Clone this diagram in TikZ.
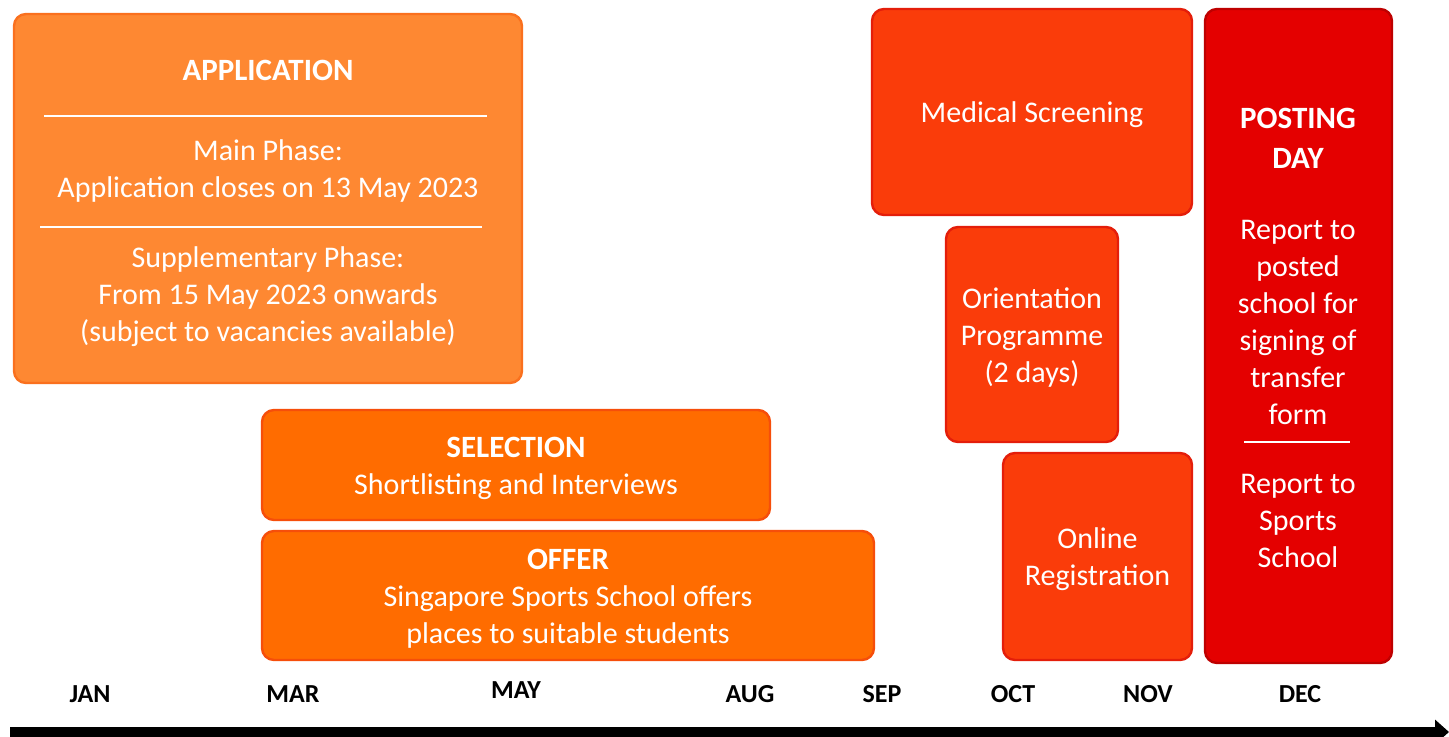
\documentclass[tikz,border=0pt]{standalone}
\usepackage{fontspec}
\setmainfont{Carlito}
\usetikzlibrary{arrows.meta}

\definecolor{appfill}{RGB}{254,136,50}
\definecolor{appline}{RGB}{250,112,30}
\definecolor{selfill}{RGB}{255,108,0}
\definecolor{selline}{RGB}{246,78,10}
\definecolor{medfill}{RGB}{250,60,10}
\definecolor{medline}{RGB}{228,30,10}
\definecolor{postfill}{RGB}{228,0,0}
\definecolor{postline}{RGB}{190,0,0}

\tikzset{
  stagebox/.style={draw, line width=1.2pt, rounded corners=6pt, inner sep=0pt},
  boxtext/.style={text=white, align=center, yshift=-1.5pt, font=\fontsize{15}{18.5}\selectfont},
  boxtitle/.style={text=white, align=center, font=\fontsize{15.5}{20}\selectfont\bfseries},
  divider/.style={white, line width=0.8pt},
  month/.style={font=\fontsize{13}{15}\selectfont\bfseries}
}

\begin{document}
\begin{tikzpicture}[x=0.5pt,y=-0.5pt]
  \useasboundingbox (0,0) rectangle (1449,737);

  % application
  \node[stagebox, draw=appline, fill=appfill, minimum width=254pt, minimum height=184.5pt] (application) at (268,198.5) {};
  \node[boxtitle] (apptitle) at (268,70) {APPLICATION};
  \draw[divider] (44,116) -- (487,116);
  \node[boxtext] (mainphase) at (268,168) {Main Phase:\\Application closes on 13 May 2023};
  \draw[divider] (40,227) -- (482,227);
  \node[boxtext] (suppphase) at (268,294) {Supplementary Phase:\\From 15 May 2023 onwards\\(subject to vacancies available)};

  % selection and offer
  \node[stagebox, draw=selline, fill=selfill, minimum width=254pt, minimum height=55pt] (selection) at (516,465) {};
  \node[boxtext] (seltext) at (selection.center)
    {\textbf{\fontsize{15.5}{18.5}\selectfont SELECTION}\\Shortlisting and Interviews};
  \node[stagebox, draw=selline, fill=selfill, minimum width=306pt, minimum height=64.5pt] (offer) at (568,595.5) {};
  \node[boxtext] (offertext) at (offer.center)
    {\textbf{\fontsize{15.5}{18.5}\selectfont OFFER}\\Singapore Sports School offers\\places to suitable students};

  % medical, orientation, registration
  \node[stagebox, draw=medline, fill=medfill, minimum width=160pt, minimum height=103pt] (medical) at (1032,112) {};
  \node[boxtext] (medtext) at (medical.center) {Medical Screening};
  \node[stagebox, draw=medline, fill=medfill, minimum width=86pt, minimum height=107.5pt] (orientation) at (1032,334.5) {};
  \node[boxtext] (orienttext) at (orientation.center) {Orientation\\Programme\\(2 days)};
  \node[stagebox, draw=medline, fill=medfill, minimum width=94.5pt, minimum height=103.5pt] (online) at (1097.5,556.5) {};
  \node[boxtext] (onlinetext) at (online.center) {Online\\Registration};

  % posting day
  \node[stagebox, draw=postline, fill=postfill, minimum width=93.5pt, minimum height=327pt] (posting) at (1298.5,336) {};
  \node[boxtitle] (posttitle) at (1298,138) {POSTING\\DAY};
  \node[boxtext] (postschool) at (1298,319) {Report to\\posted\\school for\\signing of\\transfer\\form};
  \draw[divider] (1244,442) -- (1350,442);
  \node[boxtext] (sportsschool) at (1298,518) {Report to\\Sports\\School};

  % months
  \foreach \x/\y/\m in {90/694/JAN,293/694/MAR,516/690/MAY,750/694/AUG,882/694/SEP,1013/694/OCT,1148/694/NOV,1300/694/DEC} {
    \node[month] (m\m) at (\x,\y) {\m};}

  % time axis
  \coordinate (axisstart) at (10,732);
  \coordinate (axisend) at (1449,732);
  \draw[line width=5pt, -{Triangle[length=7pt,width=12pt]}] (axisstart) -- (axisend);
\end{tikzpicture}
\end{document}
